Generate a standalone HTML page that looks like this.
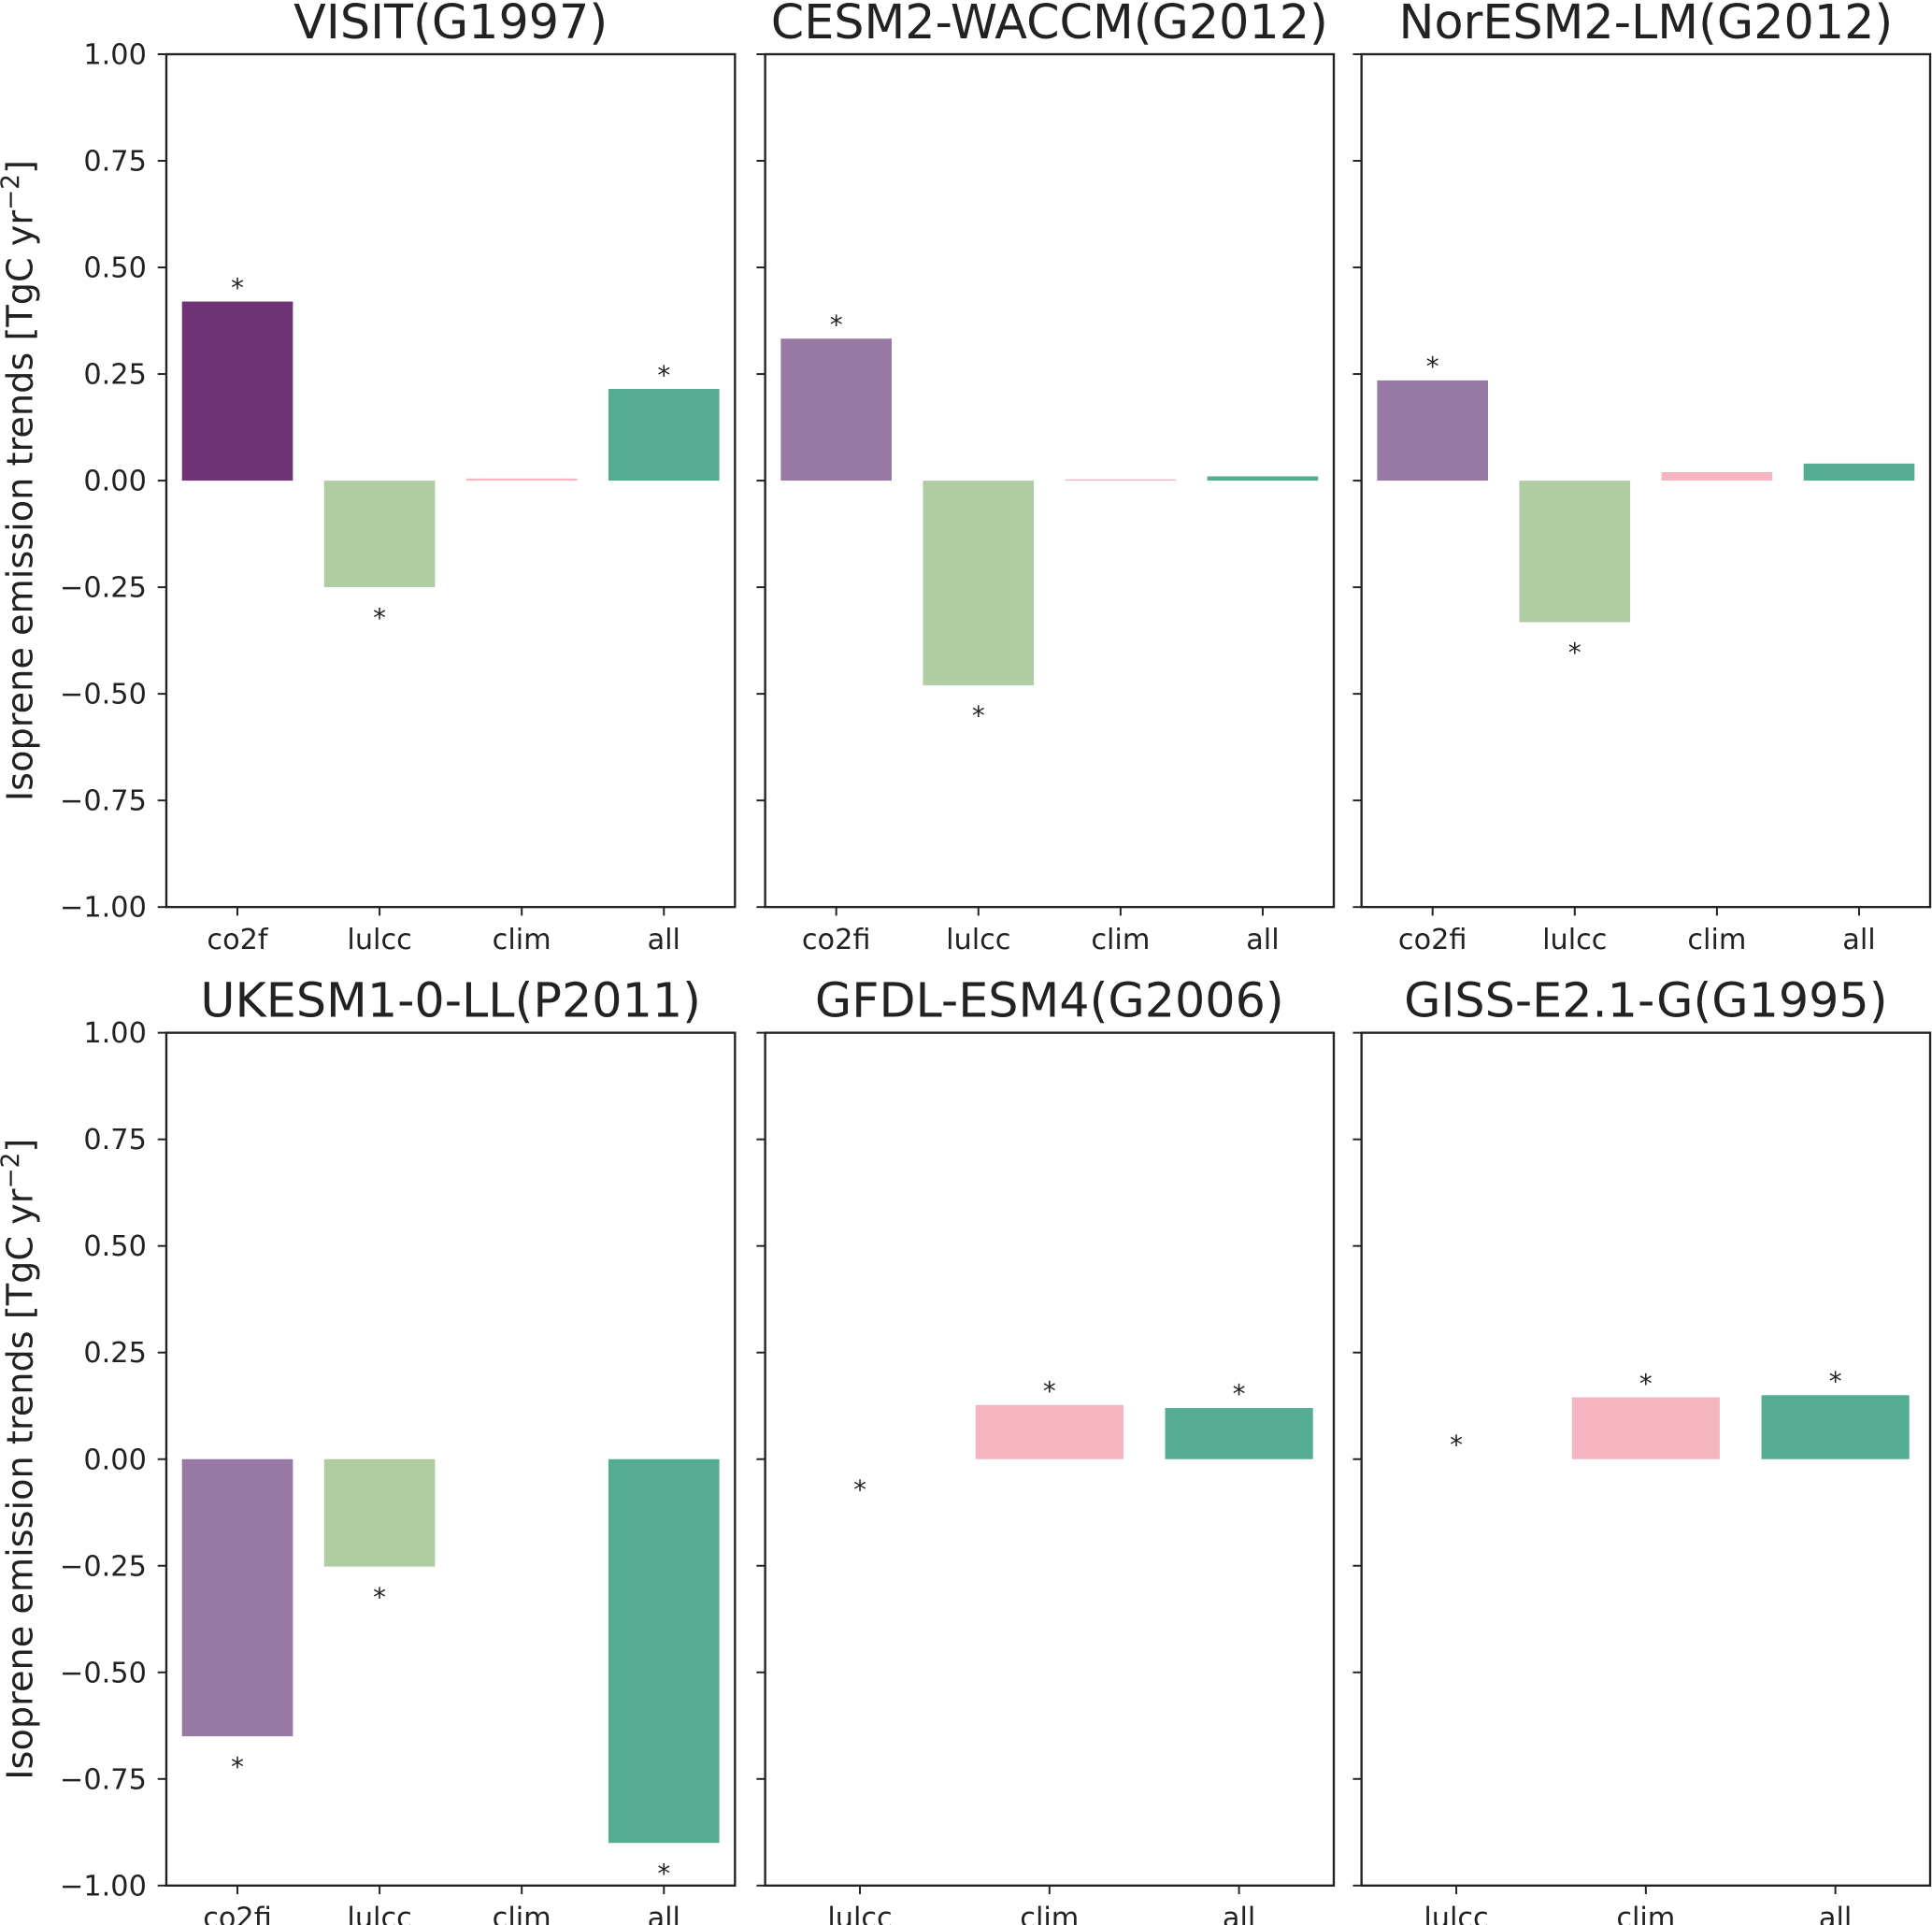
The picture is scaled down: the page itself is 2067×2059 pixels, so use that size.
<!DOCTYPE html>
<html><head><meta charset="utf-8"><style>
html,body{margin:0;padding:0;background:#fff;}
svg{display:block;font-family:"DejaVu Sans","Liberation Sans",sans-serif;}
</style></head><body>
<svg id="chart" width="2067" height="2059" viewBox="0 0 1568 1562" preserveAspectRatio="none" xmlns="http://www.w3.org/2000/svg"></svg>
<script>
const panelTitles = ["VISIT(G1997)","CESM2-WACCM(G2012)","NorESM2-LM(G2012)","UKESM1-0-LL(P2011)","GFDL-ESM4(G2006)","GISS-E2.1-G(G1995)"];
const panelCategories = [
  ["co2f","lulcc","clim","all"],
  ["co2fi","lulcc","clim","all"],
  ["co2fi","lulcc","clim","all"],
  ["co2fi","lulcc","clim","all"],
  ["lulcc","clim","all"],
  ["lulcc","clim","all"]
];
const panelValues = [
  [0.42,-0.25,0.005,0.215],
  [0.333,-0.48,0.003,0.01],
  [0.235,-0.332,0.02,0.04],
  [-0.65,-0.252,0,-0.90],
  [0,0.127,0.12],
  [0.001,0.145,0.15]
];
const panelSignificant = [
  [1,1,0,1],
  [1,1,0,0],
  [1,1,0,0],
  [1,1,0,1],
  [1,1,1],
  [1,1,1]
];
const yTicks = [1.00,0.75,0.50,0.25,0.00,-0.25,-0.50,-0.75,-1.00];

const NS="http://www.w3.org/2000/svg";
const svg=document.getElementById('chart');
function mk(tag,attrs,parent){const e=document.createElementNS(NS,tag);for(const k in attrs)e.setAttribute(k,attrs[k]);(parent||svg).appendChild(e);return e;}
const colorMap={co2f:"#6d3375",co2fi:"#9879a3",lulcc:"#b0cca3",clim:"#f4b5c1",all:"#54ad93"};
const colX=[135,621,1105], W=461.5, rowY=[44,838], H=692;
for(let p=0;p<6;p++){
  const x0=colX[p%3], y0=rowY[Math.floor(p/3)];
  const yS=v=>y0+(1-v)/2*H;
  const g=mk('g',{});
  
  
  const cats=panelCategories[p], vals=panelValues[p], sig=panelSignificant[p];
  const step=W/cats.length, bw=step*0.78;
  const xC=i=>x0+(i+0.5)*step;
  for(let i=0;i<cats.length;i++){
    const v=vals[i];
    if(Math.abs(v)>=0.002){
      const r=mk('rect',{x:xC(i)-bw/2,y:Math.min(yS(v),yS(0)),width:bw,height:Math.max(Math.abs(yS(v)-yS(0)),1),fill:colorMap[cats[i]]},g);
      
      
    }
    if(sig[i]){
      const sy=v>0?yS(v)-4:yS(v)+32;
      const t=mk('text',{x:xC(i),y:sy,'text-anchor':'middle','font-size':21,fill:'#222'},g);
      t.textContent='*';
      
      
    }
    mk('line',{x1:xC(i),x2:xC(i),y1:y0+H,y2:y0+H+7,stroke:'#222','stroke-width':1.5},g);
    const xl=mk('text',{x:xC(i),y:y0+H+34,'text-anchor':'middle','font-size':23,fill:'#222'},g);
    xl.textContent=cats[i];
    
    
  }
  for(const tv of yTicks){
    mk('line',{x1:x0-7,x2:x0,y1:yS(tv),y2:yS(tv),stroke:'#222','stroke-width':1.5},g);
    if(p%3===0){
      const tl=mk('text',{x:x0-16,y:yS(tv)+8,'text-anchor':'end','font-size':23,fill:'#222'},g);
      tl.textContent=(tv<0?'\u2212':'')+Math.abs(tv).toFixed(2);
      
      
    }
  }
  const fr=mk('rect',{x:x0,y:y0,width:W,height:H,fill:'none',stroke:'#222','stroke-width':1.8},g);
  
  
  const tt=mk('text',{x:x0+W/2,y:y0-13,'text-anchor':'middle','font-size':38.5,fill:'#222'},g);
  tt.textContent=panelTitles[p];
  
  
  if(p%3===0){
    const yl=mk('text',{x:0,y:0,transform:`translate(26,${y0+H/2}) rotate(-90)`,'text-anchor':'middle','font-size':29,fill:'#222'},g);
    yl.innerHTML='Isoprene emission trends [TgC yr<tspan dy="-11" font-size="20">\u22122</tspan><tspan dy="11">]</tspan>';
    
    
  }
}
</script>
</body></html>
